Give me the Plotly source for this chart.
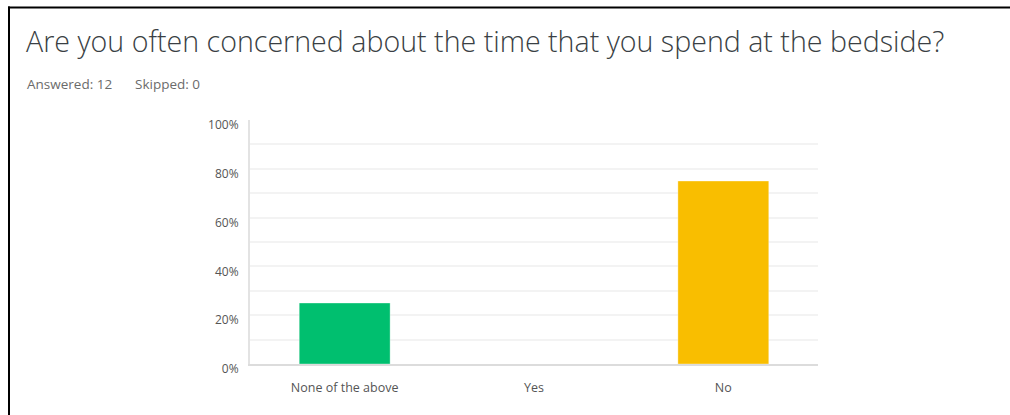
import plotly.graph_objects as go

categories = ["None of the above", "Yes", "No"]
values = [25, 0, 75]
colors = ["#00BF6F", "#00BF6F", "#F9BE00"]
tick_vals = [0, 20, 40, 60, 80, 100]
tick_text = ["0%", "20%", "40%", "60%", "80%", "100%"]
title_text = "Are you often concerned about the time that you spend at the bedside?"
answered_text = "Answered: 12"
skipped_text = "Skipped: 0"

W, H = 1010, 415
L, R, T, B = 250, 818, 120, 364

def px(x):
    return (x - L) / (R - L)

def py(y):
    return (B - y) / (B - T)

fig = go.Figure()
fig.add_trace(go.Bar(
    x=categories, y=values,
    marker=dict(color=colors, line=dict(color="rgba(255,255,255,0.35)", width=1)),
    width=0.48, hoverinfo="skip",
))

fig.update_layout(
    width=W, height=H,
    margin=dict(l=L, r=W - R, t=T, b=H - B),
    paper_bgcolor="white", plot_bgcolor="white",
    showlegend=False,
    font=dict(family="Open Sans, sans-serif", color="#555555"),
    xaxis=dict(
        showgrid=False, showline=True, linecolor="#dcdcdc", linewidth=2,
        ticks="", tickfont=dict(size=12.5, color="#555555"),
        ticklabelstandoff=11, fixedrange=True,
    ),
    yaxis=dict(
        range=[0, 100], tickvals=tick_vals, ticktext=tick_text,
        showgrid=True, gridcolor="#f3f3f3", gridwidth=2,
        minor=dict(dtick=10, showgrid=True, gridcolor="#f3f3f3", gridwidth=2),
        showline=True, linecolor="#e3e3e3", linewidth=2,
        zeroline=False, ticks="",
        tickfont=dict(size=12, color="#555555"),
        ticklabelshift=5, ticklabelstandoff=7, fixedrange=True,
    ),
    shapes=[
        dict(type="line", xref="paper", yref="paper",
             x0=px(8), x1=px(1012), y0=py(7.5), y1=py(7.5),
             line=dict(color="black", width=2)),
        dict(type="line", xref="paper", yref="paper",
             x0=px(9), x1=px(9), y0=py(6.5), y1=py(420),
             line=dict(color="black", width=2)),
    ],
    annotations=[
        dict(text=title_text, xref="paper", yref="paper",
             x=px(24), y=py(40), xanchor="left", yanchor="middle",
             showarrow=False,
             font=dict(family="Open Sans", size=28.6, color="#3a3f44", weight=300)),
        dict(text=answered_text, xref="paper", yref="paper",
             x=px(25), y=py(84), xanchor="left", yanchor="middle",
             showarrow=False, font=dict(size=13.5, color="#6b6b6b")),
        dict(text=skipped_text, xref="paper", yref="paper",
             x=px(133), y=py(84), xanchor="left", yanchor="middle",
             showarrow=False, font=dict(size=13.5, color="#6b6b6b")),
    ],
)

fig.write_html("out.html",
               config={"displayModeBar": False},
               post_script="document.body.style.margin='0';document.body.style.padding='0';")
